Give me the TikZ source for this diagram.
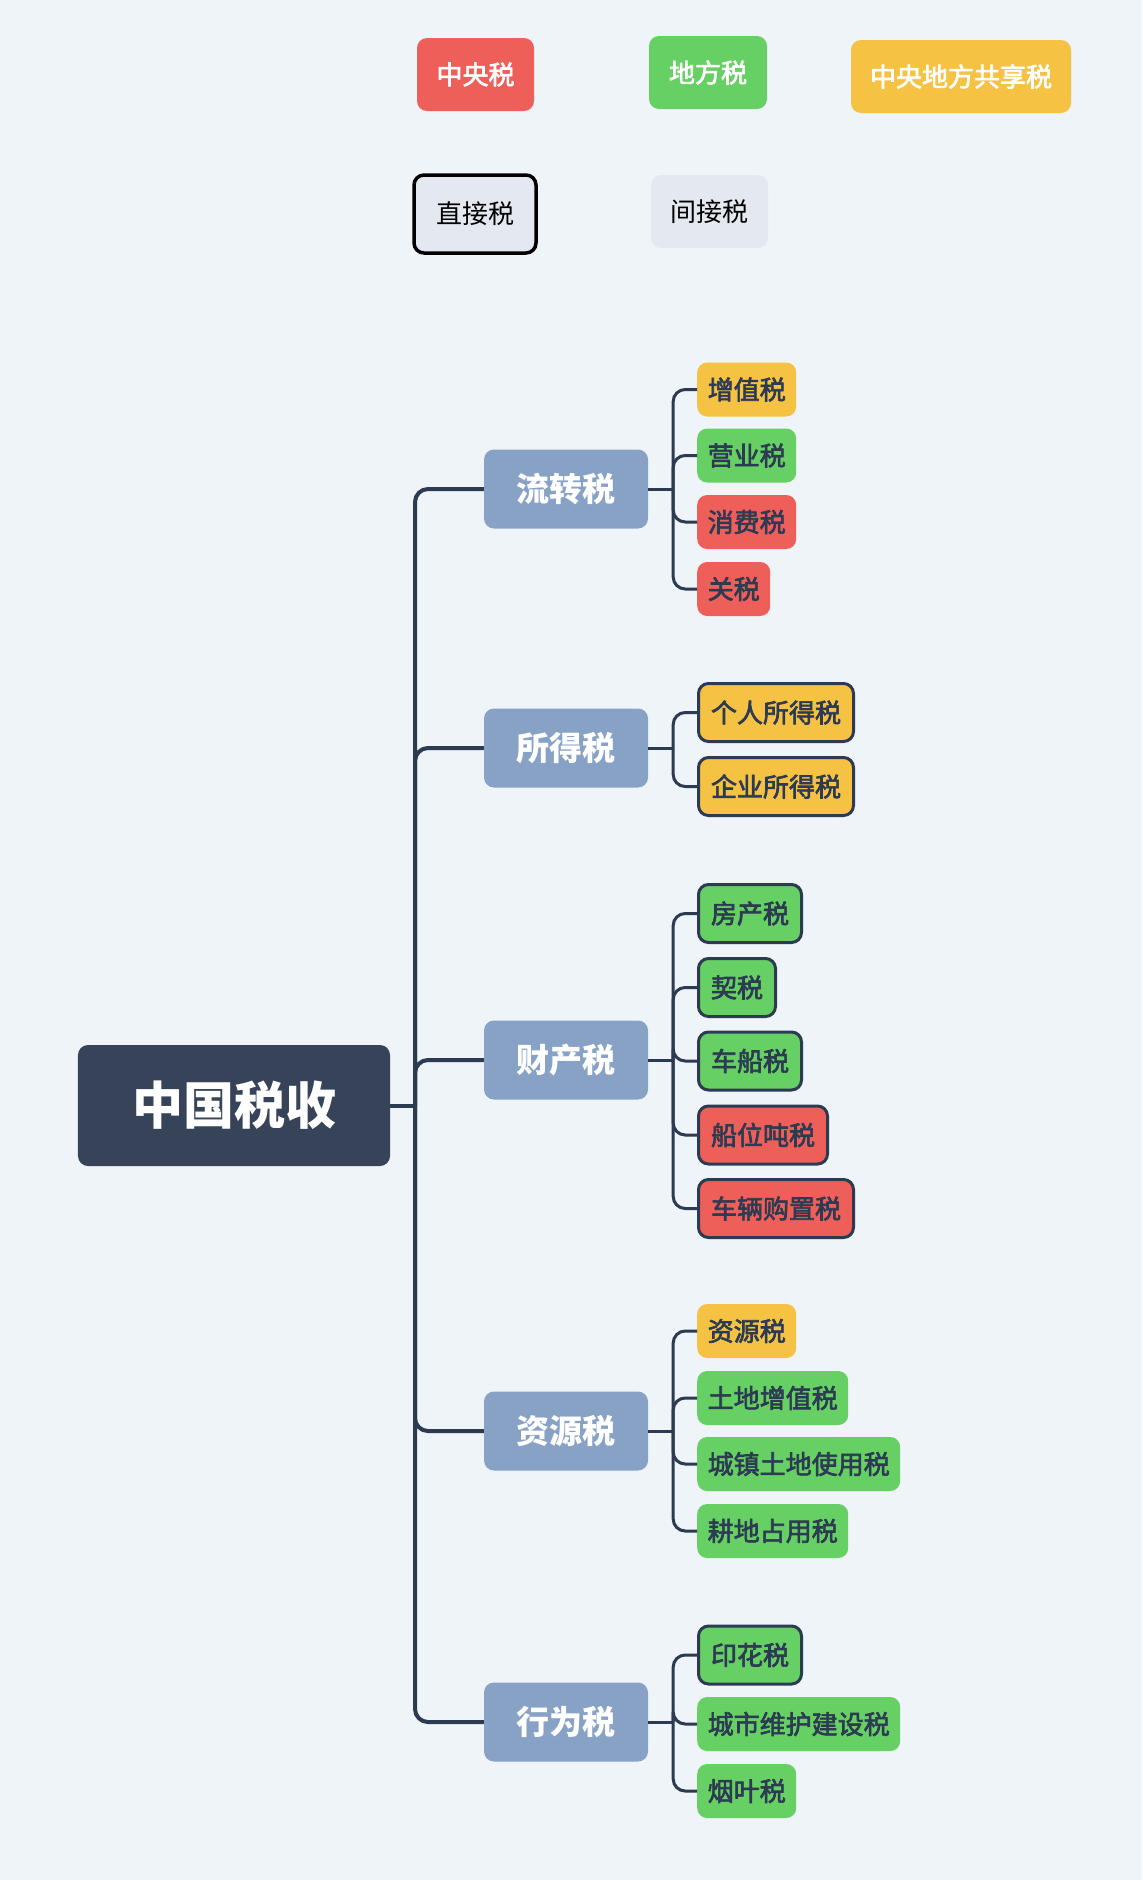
\documentclass[tikz,border=0pt]{standalone}
\usepackage{fontspec}
\setmainfont{Noto Sans CJK SC}
\newfontfamily\medfont[FakeBold=2.5]{Noto Sans CJK SC}
\definecolor{bgc}{HTML}{EEF4F8}
\definecolor{redc}{HTML}{EE5F59}
\definecolor{greenc}{HTML}{67D064}
\definecolor{yellowc}{HTML}{F6C243}
\definecolor{catc}{HTML}{88A2C6}
\definecolor{rootc}{HTML}{364358}
\definecolor{txtc}{HTML}{2C3A52}
\definecolor{grayc}{HTML}{E4E9F1}
\newcommand\myfs[1]{\fontsize{#1bp}{#1bp}\selectfont}
\tikzset{
  legbox/.style={rounded corners=10bp, inner sep=0pt, font=\myfs{26}\medfont, text=white},
  rootbox/.style={fill=rootc, rounded corners=10bp, minimum width=312bp, minimum height=121bp, inner sep=0pt, font=\myfs{51}\bfseries, text=white},
  catbox/.style={fill=catc, rounded corners=10bp, minimum width=164bp, minimum height=79bp, inner sep=0pt, font=\myfs{33}\bfseries, text=white},
  leaf/.style={anchor=west, rounded corners=10bp, inner xsep=10.5bp, inner ysep=0pt, minimum height=54bp, font=\myfs{26}\medfont, text=txtc},
  leafb/.style={anchor=west, draw=txtc, line width=3bp, rounded corners=10bp, inner xsep=12.5bp, inner ysep=0pt, minimum height=58bp, font=\myfs{26}\medfont, text=txtc},
  trunkline/.style={draw=txtc, line width=4bp},
  childline/.style={draw=txtc, line width=3bp},
}
\begin{document}
\begin{tikzpicture}[x=1bp,y=-1bp]
\fill[bgc] (0,0) rectangle (1142,1880);
\useasboundingbox (0,0) rectangle (1142,1880);

% legend
\node[legbox, fill=redc, minimum width=117bp, minimum height=73bp] (lz) at (475.5,74.5) {中央税};
\node[legbox, fill=greenc, minimum width=118bp, minimum height=73bp] (ld) at (708,72.5) {地方税};
\node[legbox, fill=yellowc, minimum width=220bp, minimum height=73bp] (lg) at (961,76.5) {中央地方共享税};
\node[rounded corners=10bp, fill=grayc, draw=black, line width=3.5bp, minimum width=122bp, minimum height=78bp, inner sep=0pt, font=\myfs{26}, text=black] (lzj) at (475,214) {直接税};
\node[rounded corners=10bp, fill=grayc, minimum width=117bp, minimum height=73bp, inner sep=0pt, font=\myfs{26}, text=black] (ljj) at (709.5,211.5) {间接税};

% root
\node[rootbox] (root) at (234,1105.5) {中国税收};
\coordinate (J) at (415,1105.5);

% categories
\node[catbox] (c1) at (566,489) {流转税};
\node[catbox] (c2) at (566,748) {所得税};
\node[catbox] (c3) at (566,1060) {财产税};
\node[catbox] (c4) at (566,1431) {资源税};
\node[catbox] (c5) at (566,1722) {行为税};

% leaves
\node[leaf, fill=yellowc] (a1) at (697,389.5) {增值税};
\node[leaf, fill=greenc] (a2) at (697,455.5) {营业税};
\node[leaf, fill=redc] (a3) at (697,522) {消费税};
\node[leaf, fill=redc] (a4) at (697,589) {关税};

\node[leafb, fill=yellowc] (b1) at (697,712.5) {个人所得税};
\node[leafb, fill=yellowc] (b2) at (697,786.5) {企业所得税};

\node[leafb, fill=greenc] (d1) at (697,913.5) {房产税};
\node[leafb, fill=greenc] (d2) at (697,987.5) {契税};
\node[leafb, fill=greenc] (d3) at (697,1061) {车船税};
\node[leafb, fill=redc] (d4) at (697,1135) {船位吨税};
\node[leafb, fill=redc] (d5) at (697,1208.5) {车辆购置税};

\node[leaf, fill=yellowc] (e1) at (697,1331) {资源税};
\node[leaf, fill=greenc] (e2) at (697,1398) {土地增值税};
\node[leaf, fill=greenc] (e3) at (697,1464) {城镇土地使用税};
\node[leaf, fill=greenc] (e4) at (697,1531) {耕地占用税};

\node[leafb, fill=greenc] (f1) at (697,1655) {印花税};
\node[leaf, fill=greenc] (f2) at (697,1724) {城市维护建设税};
\node[leaf, fill=greenc] (f3) at (697,1791) {烟叶税};

% trunk connectors
\draw[trunkline] (root.east) -- (J);
\foreach \c in {c1,c2,c3,c4,c5}{
  \draw[trunkline, rounded corners=13bp] (J) |- (\c.west);
}

% child connectors
\foreach \c/\list in {c1/{a1,a2,a3,a4}, c2/{b1,b2}, c3/{d1,d2,d3,d4,d5}, c4/{e1,e2,e3,e4}, c5/{f1,f2,f3}}{
  \draw[childline] (\c.east) -- ++(25,0) coordinate (bus-\c);
  \foreach \l in \list {
    \draw[childline, rounded corners=12bp] (bus-\c) |- (\l.west);
  }
}
\end{tikzpicture}
\end{document}
